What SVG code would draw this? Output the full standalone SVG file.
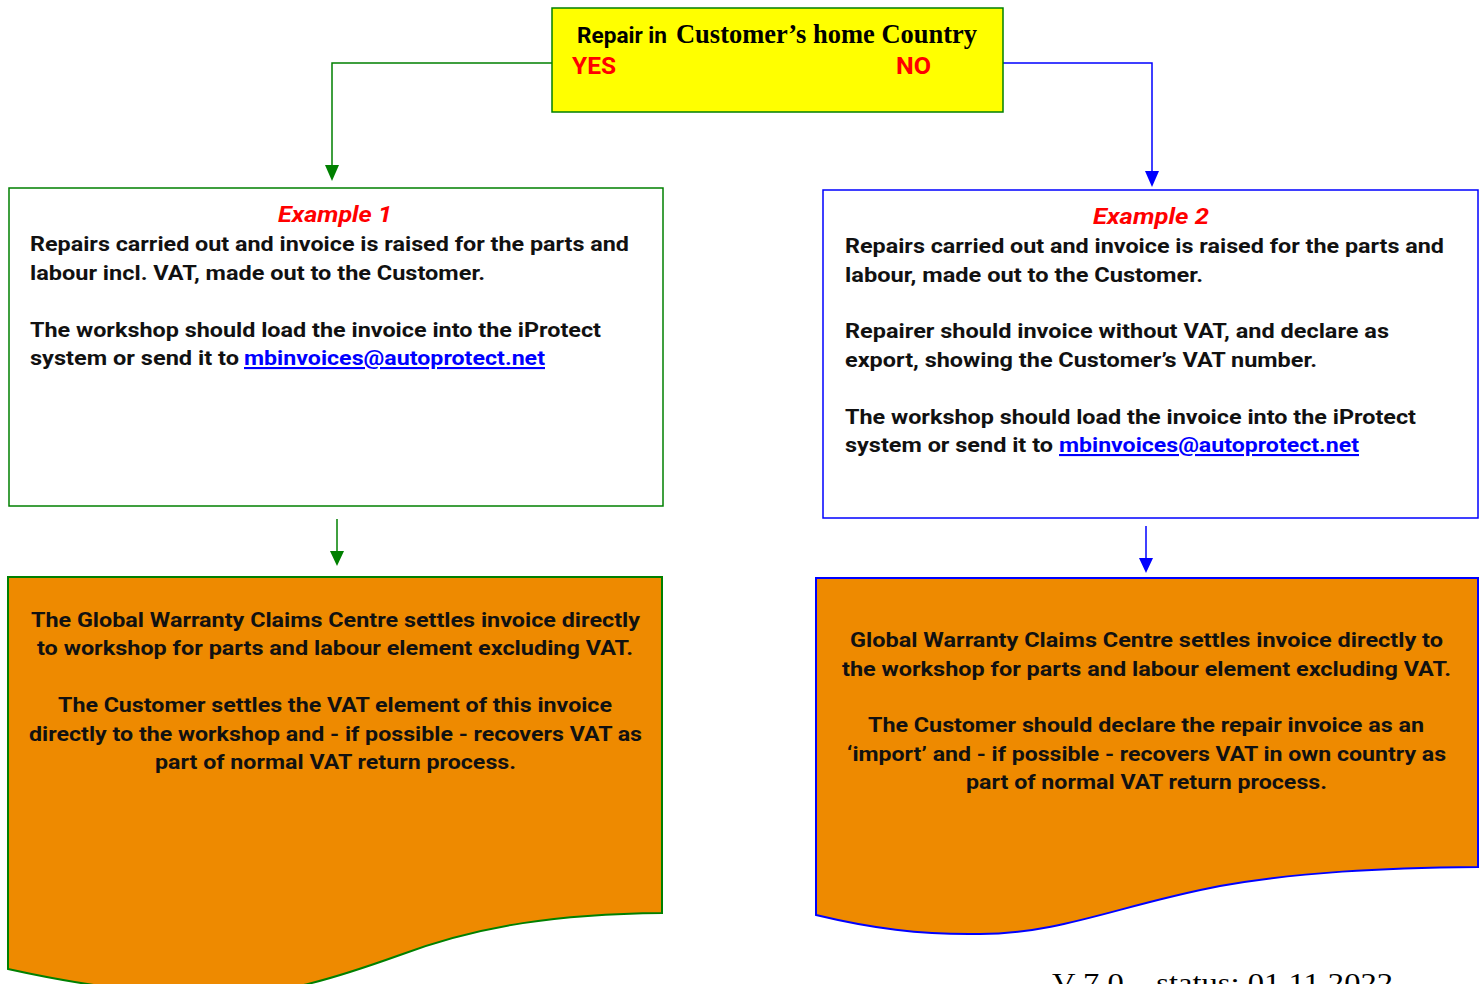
<svg xmlns="http://www.w3.org/2000/svg" width="1480" height="984" viewBox="0 0 1480 984">
<defs>
<marker id="ag" markerUnits="userSpaceOnUse" markerWidth="14" markerHeight="16" refX="7" refY="15" orient="auto-start-reverse" viewBox="0 0 14 16"><path d="M0,0 L14,0 L7,16 Z" fill="#008000" transform="rotate(0)"/></marker>
<marker id="ab" markerUnits="userSpaceOnUse" markerWidth="14" markerHeight="16" refX="7" refY="15" viewBox="0 0 14 16"><path d="M0,0 L14,0 L7,16 Z" fill="#0000FF"/></marker>
<style>
.t{font-family:Roboto,"Liberation Sans",sans-serif;font-weight:bold;font-size:21px;fill:#111}
.c{text-anchor:middle}
.ex{font-family:Roboto,"Liberation Sans",sans-serif;font-weight:bold;font-style:italic;font-size:22px;fill:#FF0000;text-anchor:middle}
.lk{fill:#0000FF;text-decoration:underline}
.g{stroke:#008000;stroke-width:1.5;fill:none}
.b{stroke:#0000FF;stroke-width:1.5;fill:none}
.doc{fill:#EE8A00;stroke-width:2}
</style>
</defs>
<g id="connectors">
<path class="g" d="M552,63 H332 V166"/>
<path d="M325,165 L339,165 L332,181 Z" fill="#008000"/>
<path class="b" d="M1003,63 H1152 V172"/>
<path d="M1145,171 L1159,171 L1152,187 Z" fill="#0000FF"/>
<path class="g" d="M337,519 V552"/>
<path d="M330,551 L344,551 L337,566 Z" fill="#008000"/>
<path class="b" d="M1146,526 V559"/>
<path d="M1139,558 L1153,558 L1146,573 Z" fill="#0000FF"/>
</g>
<g id="decision">
<rect x="552" y="8" width="451" height="104" fill="#FFFF00" stroke="#008000" stroke-width="1.5"/>
<text x="577" y="43" font-family="Roboto,'Liberation Sans',sans-serif" font-weight="bold" font-size="22" fill="#000"><tspan textLength="90" lengthAdjust="spacingAndGlyphs">Repair in</tspan></text>
<text x="676" y="43" font-family="'Liberation Serif',serif" font-weight="bold" font-size="27" fill="#000" textLength="301" lengthAdjust="spacingAndGlyphs">Customer’s home Country</text>
<text x="572" y="74" font-family="Roboto,'Liberation Sans',sans-serif" font-weight="bold" font-size="23" fill="#FF0000" textLength="44" lengthAdjust="spacingAndGlyphs">YES</text>
<text x="896" y="74" font-family="Roboto,'Liberation Sans',sans-serif" font-weight="bold" font-size="23" fill="#FF0000" textLength="35" lengthAdjust="spacingAndGlyphs">NO</text>
</g>
<g id="example1">
<rect x="9" y="188" width="654" height="318" fill="#FFFFFF" stroke="#008000" stroke-width="1.5"/>
<text class="ex" x="335" y="222" textLength="114" lengthAdjust="spacingAndGlyphs">Example 1</text>
<text class="t" x="30" y="251" textLength="599" lengthAdjust="spacingAndGlyphs">Repairs carried out and invoice is raised for the parts and</text>
<text class="t" x="30" y="280" textLength="455" lengthAdjust="spacingAndGlyphs">labour incl. VAT, made out to the Customer.</text>
<text class="t" x="30" y="337" textLength="571" lengthAdjust="spacingAndGlyphs">The workshop should load the invoice into the iProtect</text>
<text class="t" x="30" y="365" textLength="209" lengthAdjust="spacingAndGlyphs">system or send it to</text>
<text class="t lk" x="244" y="365" textLength="301" lengthAdjust="spacingAndGlyphs">mbinvoices@autoprotect.net</text>
</g>
<g id="example2">
<rect x="823" y="190" width="655" height="328" fill="#FFFFFF" stroke="#0000FF" stroke-width="1.5"/>
<text class="ex" x="1151" y="224" textLength="116" lengthAdjust="spacingAndGlyphs">Example 2</text>
<text class="t" x="845" y="253" textLength="599" lengthAdjust="spacingAndGlyphs">Repairs carried out and invoice is raised for the parts and</text>
<text class="t" x="845" y="282" textLength="358" lengthAdjust="spacingAndGlyphs">labour, made out to the Customer.</text>
<text class="t" x="845" y="338" textLength="544" lengthAdjust="spacingAndGlyphs">Repairer should invoice without VAT, and declare as</text>
<text class="t" x="845" y="367" textLength="472" lengthAdjust="spacingAndGlyphs">export, showing the Customer’s VAT number.</text>
<text class="t" x="845" y="424" textLength="571" lengthAdjust="spacingAndGlyphs">The workshop should load the invoice into the iProtect</text>
<text class="t" x="845" y="452" textLength="208" lengthAdjust="spacingAndGlyphs">system or send it to</text>
<text class="t lk" x="1059" y="452" textLength="300" lengthAdjust="spacingAndGlyphs">mbinvoices@autoprotect.net</text>
</g>
<g id="settle1">
<path class="doc" stroke="#008000" d="M8,577 H662 V913 C560,914 480,925 400,955 C330,980 280,995 220,995 C150,995 80,985 8,969 Z"/>
<text class="t" x="31" y="627" textLength="609" lengthAdjust="spacingAndGlyphs">The Global Warranty Claims Centre settles invoice directly</text>
<text class="t" x="37" y="655" textLength="596" lengthAdjust="spacingAndGlyphs">to workshop for parts and labour element excluding VAT.</text>
<text class="t" x="58" y="712" textLength="554" lengthAdjust="spacingAndGlyphs">The Customer settles the VAT element of this invoice</text>
<text class="t" x="29" y="741" textLength="613" lengthAdjust="spacingAndGlyphs">directly to the workshop and - if possible - recovers VAT as</text>
<text class="t" x="155" y="769" textLength="361" lengthAdjust="spacingAndGlyphs">part of normal VAT return process.</text>
</g>
<g id="settle2">
<path class="doc" stroke="#0000FF" d="M816,578 H1478 V867 C1380,868 1300,872 1220,886 C1120,905 1060,934 980,934 C920,935 870,928 816,915 Z"/>
<text class="t" x="850" y="647" textLength="593" lengthAdjust="spacingAndGlyphs">Global Warranty Claims Centre settles invoice directly to</text>
<text class="t" x="842" y="676" textLength="609" lengthAdjust="spacingAndGlyphs">the workshop for parts and labour element excluding VAT.</text>
<text class="t" x="868" y="732" textLength="556" lengthAdjust="spacingAndGlyphs">The Customer should declare the repair invoice as an</text>
<text class="t" x="847" y="761" textLength="599" lengthAdjust="spacingAndGlyphs">‘import’ and - if possible - recovers VAT in own country as</text>
<text class="t" x="966" y="789" textLength="361" lengthAdjust="spacingAndGlyphs">part of normal VAT return process.</text>
</g>
<g id="footer">
<text x="1052" y="992" font-family="'Liberation Serif',serif" font-size="27" fill="#000" textLength="341" lengthAdjust="spacingAndGlyphs">V 7.0 – status: 01.11.2022</text>
</g>
</svg>
